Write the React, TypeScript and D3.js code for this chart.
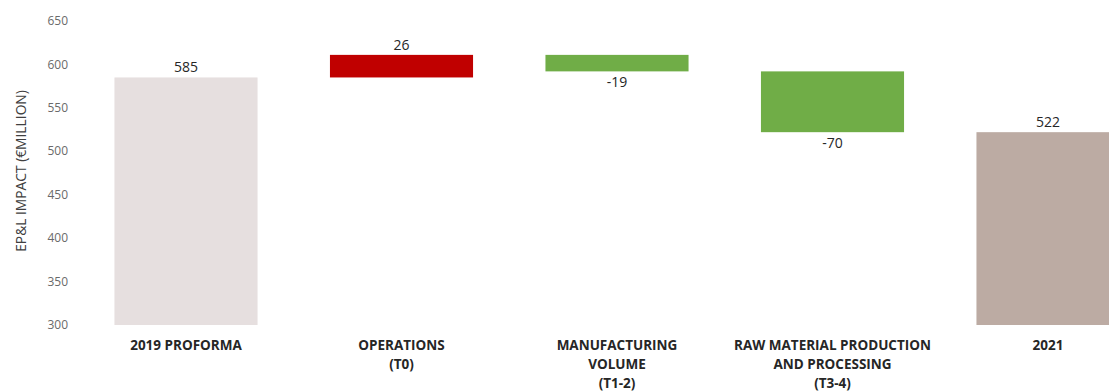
import React from "react";
import * as d3 from "d3";

const categories = ["2019 PROFORMA", "OPERATIONS|(T0)", "MANUFACTURING|VOLUME|(T1-2)", "RAW MATERIAL PRODUCTION|AND PROCESSING|(T3-4)", "2021"];
const deltas = [585, 26, -19, -70, 522];
const kinds = ["total", "delta", "delta", "delta", "total"];
const labels = ["585", "26", "-19", "-70", "522"];
const yTicks = [300, 350, 400, 450, 500, 550, 600, 650];

const W = 1109;
const H = 392;
const FONT = "'Open Sans', 'Liberation Sans', sans-serif";

export default function App() {
  const x = d3
    .scaleBand<number>()
    .domain(d3.range(categories.length))
    .range([78.25, 1155.75])
    .paddingInner(0.336)
    .paddingOuter(0.168);
  const y = d3.scaleLinear().domain([300, 650]).range([325, 21]);

  let run = 0;
  const bars = deltas.map((v, i) => {
    let y0: number, y1: number;
    if (kinds[i] === "total") {
      y0 = 300;
      y1 = v;
      run = v;
    } else {
      y0 = run;
      y1 = run + v;
      run = run + v;
    }
    let color: string;
    if (kinds[i] === "total") color = i === 0 ? "#e6dfdf" : "#bcaba3";
    else color = v > 0 ? "#c00000" : "#70ad47";
    return { i, lo: Math.min(y0, y1), hi: Math.max(y0, y1), color, neg: kinds[i] === "delta" && v < 0 };
  });

  return (
    <svg width={W} height={H} style={{ position: "absolute", left: 0, top: 0, background: "#fff" }}>
      {yTicks.map((t) => (
        <text key={t} x={68} y={y(t)} dy="0.35em" textAnchor="end" fontFamily={FONT} fontSize={12} fill="#6a6a6a">
          {t}
        </text>
      ))}
      <text
        transform={`translate(21,171) rotate(-90)`}
        textAnchor="middle"
        dy="0.35em"
        fontFamily={FONT}
        fontSize={13.8}
        fill="#404040"
      >
        EP&amp;L IMPACT (€MILLION)
      </text>
      {bars.map((b) => (
        <rect
          key={b.i}
          x={x(b.i)}
          width={x.bandwidth()}
          y={y(b.hi)}
          height={y(b.lo) - y(b.hi)}
          fill={b.color}
        />
      ))}
      {bars.map((b) => (
        <text
          key={"v" + b.i}
          x={(x(b.i) as number) + x.bandwidth() / 2}
          y={b.neg ? y(b.lo) + 5 : y(b.hi) - 5}
          dy={b.neg ? "0.75em" : 0}
          textAnchor="middle"
          fontFamily={FONT}
          fontSize={14}
          fill="#262626"
        >
          {labels[b.i]}
        </text>
      ))}
      {categories.map((c, i) => (
        <text
          key={"c" + i}
          x={(x(i) as number) + x.bandwidth() / 2}
          y={349.5}
          textAnchor="middle"
          fontFamily={FONT}
          fontSize={13.5}
          fontWeight="bold"
          fill="#262626"
        >
          {c.split("|").map((line, k) => (
            <tspan key={k} x={(x(i) as number) + x.bandwidth() / 2} dy={k === 0 ? 0 : 19}>
              {line}
            </tspan>
          ))}
        </text>
      ))}
    </svg>
  );
}
